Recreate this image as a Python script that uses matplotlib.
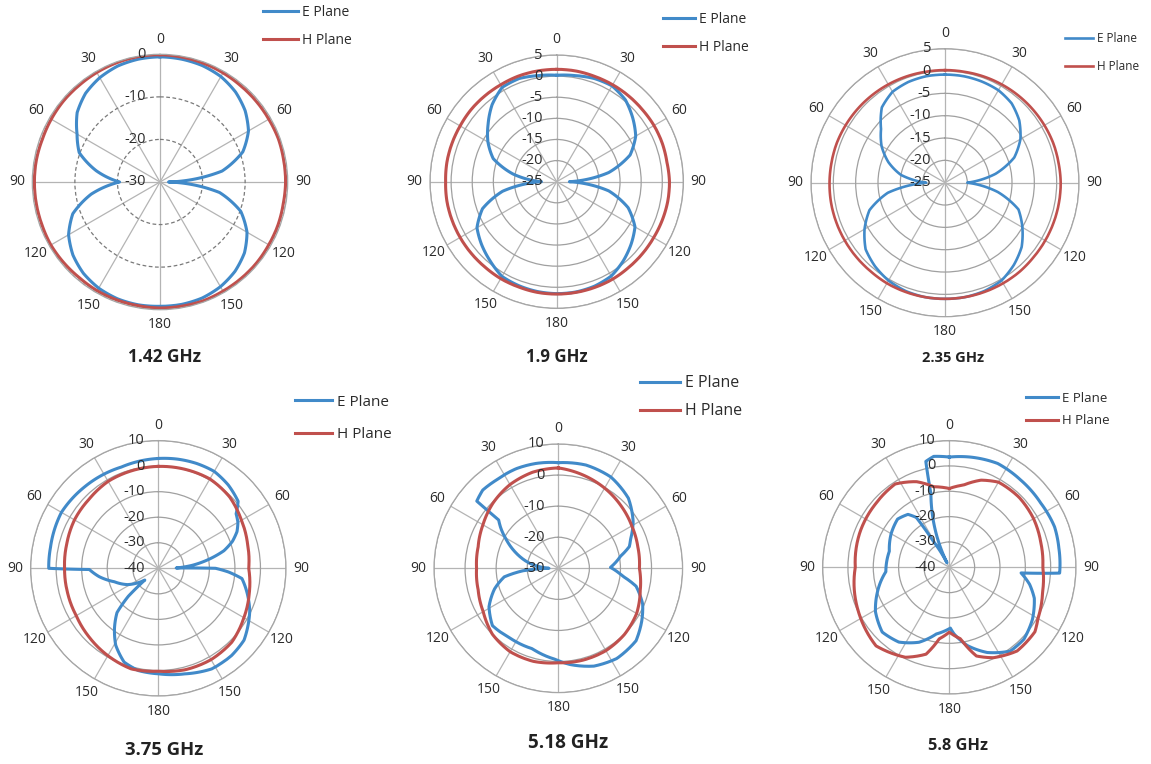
import numpy as np
import matplotlib
matplotlib.use('Agg')
import matplotlib.pyplot as plt

plt.rcParams['font.family'] = ['Open Sans', 'DejaVu Sans']

E_COLOR = '#418ac9'
H_COLOR = '#c0504d'
TEXT = '#2b2b2b'

# measured patterns, dB, angle in degrees clockwise from boresight
ang10 = list(range(0, 361, 10))

# 1.42 GHz
e_142 = [-0.6, -0.7, -0.9, -1.4, -2.4, -3.9, -6.0, -9.3, -15.2, -28.0,
         -15.8, -9.8, -6.4, -4.1, -2.6, -1.6, -1.0, -0.8, -0.8, -0.7,
         -0.8, -1.2, -2.0, -3.3, -5.2, -8.2, -13.6, -20.5, -14.8, -9.8,
         -7.5, -4.6, -2.8, -1.7, -1.0, -0.7, -0.6]
h_142 = [-0.1, -0.2, -0.3, -0.4, -0.5, -0.5, -0.5, -0.4, -0.5, -0.5,
         -0.6, -0.5, -0.5, -0.4, -0.4, -0.4, -0.3, -0.4, -0.4, -0.5,
         -0.5, -0.5, -0.6, -0.5, -0.4, -0.5, -0.5, -0.5, -0.5, -0.6,
         -0.5, -0.4, -0.4, -0.3, -0.2, -0.1, -0.1]

# 1.9 GHz
e_19 = [0.2, 0.5, 1.0, 1.2, 0.3, -1.5, -3.4, -6.5, -12.5, -22.0,
        -12.5, -7.0, -3.6, -2.0, -0.5, 0.8, 1.3, 1.5, 1.5, 1.4,
        1.2, 0.9, -0.5, -1.8, -3.2, -6.3, -12.0, -21.4, -14.5, -9.0,
        -6.2, -3.8, -1.2, 0.8, 1.0, 0.5, 0.2]
h_19 = [1.6, 1.6, 1.5, 1.5, 1.5, 1.5, 1.6, 1.6, 1.5, 1.7,
        1.7, 1.6, 1.5, 1.5, 1.5, 1.6, 1.6, 1.6, 1.6, 1.6,
        1.5, 1.5, 1.4, 1.4, 1.4, 1.4, 1.4, 1.3, 1.4, 1.4,
        1.4, 1.5, 1.5, 1.5, 1.6, 1.6, 1.6]

# 2.35 GHz
e_235 = [-0.8, -0.8, -0.9, -1.1, -1.8, -3.3, -5.5, -8.5, -13.5, -20.0,
         -13.0, -7.5, -5.0, -2.6, -1.0, 0.3, 0.8, 1.0, 1.0, 1.0,
         0.8, 0.3, -0.6, -1.8, -4.2, -7.0, -12.0, -20.8, -15.0, -11.5,
         -8.6, -6.3, -3.0, -1.5, -1.0, -0.8, -0.8]
h_235 = [0.2, 0.2, 0.3, 0.4, 0.5, 0.6, 0.7, 0.8, 0.8, 0.9,
         0.9, 0.9, 0.9, 0.9, 1.0, 1.0, 1.0, 1.0, 1.0, 1.0,
         1.0, 1.0, 0.9, 0.9, 0.9, 0.9, 0.9, 0.85, 0.8, 0.8,
         0.7, 0.6, 0.5, 0.4, 0.3, 0.2, 0.2]

# 3.75 GHz
ang_e_375 = [0, 10, 20, 30, 40, 50, 55, 60, 65, 70, 75, 80, 85, 89, 90,
             93, 97, 105, 115, 130, 140, 152, 166, 180, 191, 200, 209, 216,
             223, 227, 229, 235, 242, 253, 262, 269, 270, 281, 300, 318,
             340, 360]
e_375 = [3.0, 3.4, 3.7, 3.8, 2.6, 0.8, -2.8, -4.0, -6.0, -9.1, -13.4,
         -20.0, -26.7, -33.0, -17.6, -12.5, -7.0, -4.1, -0.5, 3.8, 4.6,
         4.6, 2.6, 1.3, 0.8, -0.9, -5.6, -10.8, -16.3, -24.0, -33.0,
         -30.0, -26.4, -22.0, -16.6, -13.0, 2.9, 3.0, 3.8, 3.0, 2.2, 3.0]
ang_h_375 = [0, 30, 45, 60, 75, 90, 105, 120, 135, 150, 165, 180, 195,
             210, 225, 240, 255, 270, 285, 300, 315, 330, 345, 360]
h_375 = [-0.1, 0.4, -0.5, -2.4, -3.8, -4.6, -3.1, -1.3, 0.8, 1.3, 1.1,
         0.3, 0.8, -0.5, -1.8, -2.9, -3.2, -3.3, -2.9, -2.1, -1.7, -0.7,
         -0.4, -0.1]

# 5.18 GHz
ang_e_518 = [0, 15, 30, 45, 58, 68, 73, 79, 89, 97, 103, 113, 122, 133,
             147, 160, 173, 182, 198, 215, 229, 241, 252, 261, 266, 270,
             280, 290, 299, 305, 309, 309.5, 316, 325, 337, 348, 360]
e_518 = [4.0, 4.4, 3.9, 1.9, -1.6, -4.9, -6.1, -9.6, -13.2, -9.1, -4.3,
         -0.5, 1.7, 4.2, 4.6, 3.5, 1.2, -0.7, -2.8, -2.7, -1.9, -4.5,
         -8.4, -12.4, -18.6, -27.0, -20.6, -15.5, -10.8, -7.4, -5.3, 4.0,
         5.0, 4.7, 4.8, 4.5, 4.0]
ang_h_518 = [0, 30, 45, 60, 75, 90, 105, 120, 135, 150, 165, 180, 195,
             210, 225, 240, 255, 270, 285, 300, 315, 330, 345, 360]
h_518 = [2.3, -0.2, -1.5, -2.7, -3.5, -3.9, -2.7, -0.9, 0.1, 0.6, 0.6,
         0.4, 1.0, 1.0, 0.0, -2.1, -3.3, -3.7, -3.3, -2.0, -0.3, 1.1,
         2.0, 2.3]

# 5.8 GHz
ang_e_58 = [0, 11, 25, 39, 55, 69, 80, 93, 94.5, 102, 110, 122, 134, 144,
            156, 167, 176, 179, 191, 202, 214, 226, 239, 251, 266, 285,
            300, 313, 322, 326.5, 328.5, 333, 346, 347.5, 352, 360]
e_58 = [3.5, 4.3, 5.2, 4.5, 4.1, 4.5, 3.9, 3.6, -11.6, -7.6, -4.3, -1.3,
        0.9, 0.9, -3.2, -8.3, -13.7, -16.0, -13.2, -8.1, -4.4, -3.2,
        -6.0, -10.0, -14.9, -15.5, -13.5, -12.1, -13.5, -16.4, -27.8,
        -38.0, -10.0, 2.8, 4.2, 3.5]
ang_h_58 = [0, 10, 20, 30, 45, 60, 75, 90, 105, 120, 127, 141, 154, 163,
            171, 180, 188, 195, 206, 223, 244, 270, 292, 311, 327, 339,
            349, 360]
h_58 = [-8.9, -7.0, -3.4, -1.2, -1.0, -1.6, -2.6, -3.1, -1.9, 0.4, 2.3,
        2.5, -0.3, -3.4, -11.4, -14.4, -11.5, -4.5, -0.5, 2.4, -0.1,
        -2.9, -2.1, -1.6, -0.8, -3.8, -7.6, -8.9]

angle_labels = ['0', '30', '60', '90', '120', '150', '180',
                '150', '120', '90', '60', '30']

W, H = 1151, 764
fig = plt.figure(figsize=(W / 100, H / 100), dpi=100)


def px_fig(x, y):
    return x / W, 1 - y / H


def panel(cx, cy, R, rmin, rmax, rstep, e_ang, e_val, h_ang, h_val,
          title, title_xy, title_fs, leg_xy, leg_fs, leg_pitch, leg_len,
          lw=2.2, dashed=False):
    ax = fig.add_axes([(cx - R) / W, (H - cy - R) / H, 2 * R / W, 2 * R / H],
                      projection='polar')
    ax.set_theta_zero_location('N')
    ax.set_theta_direction(-1)
    ax.set_axisbelow(True)

    le, = ax.plot(np.deg2rad(e_ang), e_val, color=E_COLOR, lw=lw,
                  label='E Plane', solid_joinstyle='round')
    lh, = ax.plot(np.deg2rad(h_ang), h_val, color=H_COLOR, lw=lw,
                  label='H Plane', solid_joinstyle='round')
    # let the polar transform draw each segment as an arc, not a chord
    for ln in (le, lh):
        ln.get_path()._interpolation_steps = 60

    ax.set_ylim(rmin, rmax)
    rings = np.arange(rmin + rstep, rmax + 0.01, rstep)
    ax.set_yticks(rings)
    ax.set_yticklabels([])
    ax.set_xticks(np.deg2rad(np.arange(0, 360, 30)))
    ax.set_xticklabels(angle_labels, fontsize=10, color=TEXT)
    ax.tick_params(axis='x', pad=0.5)
    ax.xaxis.grid(True, color='#b4b4b4', lw=0.9)
    if dashed:
        ax.yaxis.grid(True, color='#7a7a7a', lw=0.9, ls=(0, (3, 2)))
    else:
        ax.yaxis.grid(True, color='#a0a0a0', lw=0.9)
    ax.spines['polar'].set_color('#a6a6a6')
    ax.spines['polar'].set_linewidth(0.9)

    for t in [rmin] + list(rings):
        ax.annotate(f'{t:g}', xy=(0, t), xytext=(-10, 0),
                    textcoords='offset points', ha='right', va='center',
                    fontsize=10.5, color=TEXT, zorder=5)

    tx, ty = px_fig(*title_xy)
    fig.text(tx, ty, title, ha='center', va='center', fontsize=title_fs,
             fontweight='bold', color='#222222')

    fs_px = leg_fs * 100 / 72
    row_h = 1.2 * fs_px
    lx, ly = px_fig(leg_xy[0], leg_xy[1] - row_h / 2)
    leg = ax.legend(handles=[le, lh], loc='upper left',
                    bbox_to_anchor=(lx, ly), bbox_transform=fig.transFigure,
                    frameon=False, borderpad=0, borderaxespad=0,
                    fontsize=leg_fs, handlelength=leg_len / fs_px,
                    handletextpad=0.3,
                    labelspacing=(leg_pitch - row_h) / fs_px)
    for txt in leg.get_texts():
        txt.set_color(TEXT)
    return ax


panel(160, 182, 127.7, -30, 0, 10, ang10, e_142, ang10, h_142,
      '1.42 GHz', (165, 357), 12.4, (263, 13), 10, 30, 35, dashed=True)
panel(556.7, 181.7, 126.7, -25, 5, 5, ang10, e_19, ang10, h_19,
      '1.9 GHz', (557, 357), 12.1, (663, 20), 10, 30, 32)
panel(945, 182.7, 134, -25, 5, 5, ang10, e_235, ang10, h_235,
      '2.35 GHz', (953, 358), 10.5, (1065, 39), 8.5, 29, 28, lw=1.9)
panel(158.3, 568.3, 127.7, -40, 10, 10, ang_e_375, e_375, ang_h_375, h_375,
      '3.75 GHz', (164, 750), 13.3, (295, 404), 11, 36, 37)
panel(558.3, 568.3, 124.3, -30, 10, 10, ang_e_518, e_518, ang_h_518, h_518,
      '5.18 GHz', (568, 743), 13.6, (640, 385), 11.5, 31, 40)
panel(949.3, 567.3, 126.7, -40, 10, 10, ang_e_58, e_58, ang_h_58, h_58,
      '5.8 GHz', (958, 746), 11.8, (1026, 400), 9.5, 25, 32)

fig.savefig('out.png', dpi=100, facecolor='white')
